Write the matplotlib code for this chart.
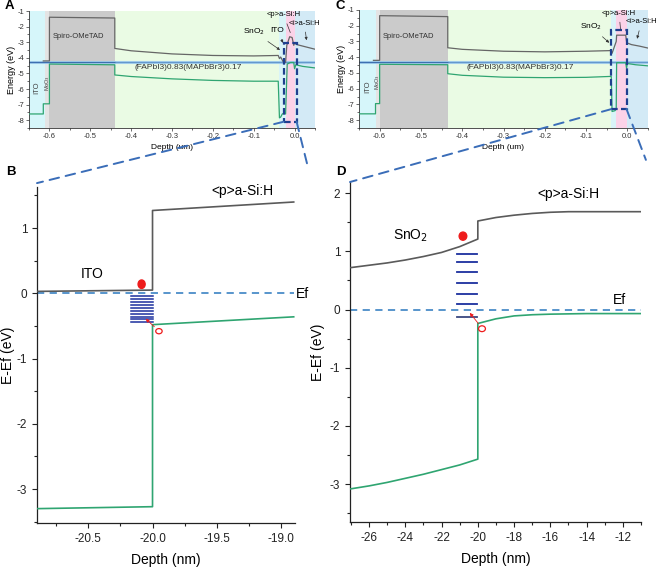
import matplotlib
matplotlib.use("Agg")
import matplotlib.pyplot as plt
from matplotlib.patches import Rectangle, ConnectionPatch, Ellipse
from matplotlib.ticker import MultipleLocator

plt.rcParams['font.family'] = ['Liberation Sans', 'DejaVu Sans']
plt.rcParams['axes.unicode_minus'] = False

# ---------------- DATA ----------------
# Panel A (depth in um, energy in eV)
A_edges = [-0.65, -0.61, -0.60, -0.44, -0.037, -0.022, 0.0, 0.05]
C_edges = [-0.65, -0.61, -0.60, -0.435, -0.039, -0.027, -0.002, 0.05]
layer_colors = ["#d6f6fa", "#e4e4e4", "#cbcbcb", "#eafbe4", "#d9f4f8", "#fbd2e8", "#d3eaf6"]

A_cb_x = [-0.615, -0.600, -0.600, -0.440, -0.440, -0.400, -0.300, -0.200, -0.100, -0.040, -0.037,
          -0.034, -0.028, -0.022, -0.019, -0.012, -0.006, -0.002, 0.000, 0.005, 0.020, 0.050]
A_cb_y = [-4.20, -4.20, -1.40, -1.45, -3.40, -3.55, -3.75, -3.85, -3.88, -3.85, -4.05,
          -3.95, -4.25, -4.30, -3.20, -2.65, -2.70, -3.20, -3.05, -3.15, -3.25, -3.45]
A_vb_x = [-0.650, -0.615, -0.615, -0.600, -0.600, -0.440, -0.440, -0.400, -0.300, -0.200, -0.100,
          -0.040, -0.037, -0.034, -0.030, -0.026, -0.022, -0.018, -0.010, -0.002, 0.000, 0.003, 0.020, 0.050]
A_vb_y = [-7.60, -7.60, -6.95, -6.95, -4.40, -4.45, -5.10, -5.20, -5.35, -5.45, -5.50,
          -5.50, -7.85, -7.80, -7.60, -7.55, -7.60, -4.40, -4.30, -4.30, -4.70, -4.45, -4.55, -4.65]
A_fermi = -4.30
A_box_x = [-0.027, 0.005]
A_box_y = [-8.10, -3.04]

# Panel C
C_cb_x = [-0.615, -0.600, -0.600, -0.435, -0.435, -0.400, -0.300, -0.200, -0.100, -0.039, -0.037,
          -0.033, -0.027, -0.026, -0.004, -0.002, 0.000, 0.010, 0.030, 0.050]
C_cb_y = [-4.20, -4.20, -1.36, -1.42, -3.40, -3.50, -3.62, -3.66, -3.62, -3.58, -3.75,
          -3.45, -3.00, -2.60, -2.60, -3.00, -3.10, -3.20, -3.30, -3.42]
C_vb_x = [-0.650, -0.610, -0.610, -0.600, -0.600, -0.435, -0.435, -0.400, -0.300, -0.200, -0.100,
          -0.039, -0.037, -0.030, -0.027, -0.026, -0.004, -0.002, 0.000, 0.020, 0.050]
C_vb_y = [-7.60, -7.60, -6.95, -6.95, -4.45, -4.48, -5.05, -5.15, -5.27, -5.30, -5.28,
          -5.22, -7.45, -7.40, -7.30, -4.35, -4.35, -4.70, -4.40, -4.48, -4.55]
C_fermi = -4.28
C_box_x = [-0.039, -0.002]
C_box_y = [-7.30, -2.26]

# Panel B (depth in nm, E-Ef in eV)
B_cb_x = [-20.9, -20.0, -20.0, -18.9]
B_cb_y = [0.03, 0.05, 1.27, 1.40]
B_vb_x = [-20.9, -20.0, -20.0, -18.9]
B_vb_y = [-3.30, -3.27, -0.48, -0.36]
B_trap_x = [-20.17, -20.00]
B_trap_levels = [-0.04, -0.085, -0.13, -0.175, -0.22, -0.265, -0.31, -0.355, -0.40, -0.445]
B_electron = (-20.085, 0.14)
B_hole = (-19.95, -0.58)
B_arrow_tip = (-20.07, -0.36)

# Panel D
D_cb_x = [-27, -26, -25, -24, -23, -22, -21, -20, -20, -19, -18, -17, -16, -15, -14, -13, -12, -11]
D_cb_y = [0.72, 0.76, 0.80, 0.85, 0.91, 0.98, 1.08, 1.21, 1.52, 1.58, 1.62, 1.65, 1.67, 1.68, 1.68, 1.68, 1.68, 1.68]
D_vb_x = [-27, -26, -25, -24, -23, -22, -21, -20, -20, -19, -18, -17, -16, -15, -14, -13, -12, -11]
D_vb_y = [-3.08, -3.03, -2.97, -2.90, -2.83, -2.75, -2.67, -2.57, -0.24, -0.16, -0.11, -0.09, -0.08,
          -0.075, -0.07, -0.07, -0.07, -0.07]
D_trap_x = [-21.15, -20.05]
D_trap_levels = [0.96, 0.81, 0.64, 0.45, 0.27, 0.09, -0.13]
D_electron = (-20.82, 1.26)
D_hole = (-19.77, -0.33)
D_arrow_tip = (-20.54, -0.02)

# ---------------- STYLE ----------------
CB_COLOR = "#5a5a5a"
VB_COLOR = "#2fa571"
EF_COLOR = "#4a8cc8"
TRAP_COLOR = "#1b2f9e"
RED = "#ee1c1c"
CONN = "#3a6db8"

W, H = 661, 568
fig = plt.figure(figsize=(6.61, 5.68), dpi=100)


def pos(l, r, t, b):
    return [l / W, 1 - b / H, (r - l) / W, (b - t) / H]


axA = fig.add_axes(pos(29, 315, 11, 128))
axC = fig.add_axes(pos(359, 648, 10, 128))
axB = fig.add_axes(pos(37, 295, 187, 523))
axD = fig.add_axes(pos(350, 641, 182, 522))


def style_small(ax):
    for s in ["top", "right"]:
        ax.spines[s].set_visible(False)
    ax.spines["left"].set_color("#333333")
    ax.spines["bottom"].set_color("#333333")
    ax.spines["left"].set_linewidth(0.6)
    ax.spines["bottom"].set_linewidth(0.6)
    ax.set_xlim(-0.65, 0.05)
    ax.set_ylim(-8.5, -1)
    ax.xaxis.set_major_locator(MultipleLocator(0.1))
    ax.xaxis.set_minor_locator(MultipleLocator(0.05))
    ax.yaxis.set_major_locator(MultipleLocator(1))
    ax.yaxis.set_minor_locator(MultipleLocator(0.5))
    ax.tick_params(which="both", direction="out", labelsize=5.5, width=0.5, colors="#333333", pad=1.5)
    ax.tick_params(which="major", length=2)
    ax.tick_params(which="minor", length=1.2)
    ax.set_xticks([-0.6, -0.5, -0.4, -0.3, -0.2, -0.1, 0.0])
    ax.set_xticklabels(["-0.6", "-0.5", "-0.4", "-0.3", "-0.2", "-0.1", "0.0"])
    ax.set_ylabel("Energy (eV)", fontsize=6.5, labelpad=1)
    ax.set_xlabel("Depth (um)", fontsize=6, labelpad=3)


def draw_small(ax, edges, cbx, cby, vbx, vby, ef, box_x, box_y):
    for i in range(len(edges) - 1):
        ax.axvspan(edges[i], edges[i + 1], color=layer_colors[i], lw=0, zorder=0)
    ax.axhline(ef, color="#9fcbea", lw=2.2, zorder=2)
    ax.plot([edges[0], edges[3]], [ef, ef], color="#3e6fb0", lw=0.8, zorder=2)
    ax.plot([edges[3], edges[-1]], [ef, ef], color="#5a8fc8", lw=0.6, zorder=2)
    ax.plot(cbx, cby, color="#666666", lw=0.9, zorder=3)
    ax.plot(vbx, vby, color=VB_COLOR, lw=0.9, zorder=3)
    ax.add_patch(Rectangle((box_x[0], box_y[0]), box_x[1] - box_x[0], box_y[1] - box_y[0],
                           fill=False, ec="#1f3f8f", lw=1.6, ls=(0, (3, 1.5)), zorder=5))
    ax.text(-0.63, -5.9, "ITO", rotation=90, fontsize=5.5, color="#444444", ha="center", va="center")
    ax.text(-0.605, -5.6, "MoO$_3$", rotation=90, fontsize=4, color="#444444", ha="center", va="center")
    ax.text(-0.53, -2.66, "Spiro-OMeTAD", fontsize=5.5, color="#333333", ha="center", va="center")
    ax.text(-0.26, -4.65, "(FAPbI3)0.83(MAPbBr3)0.17", fontsize=6, color="#333333", ha="center", va="center")


style_small(axA)
style_small(axC)
draw_small(axA, A_edges, A_cb_x, A_cb_y, A_vb_x, A_vb_y, A_fermi, A_box_x, A_box_y)
draw_small(axC, C_edges, C_cb_x, C_cb_y, C_vb_x, C_vb_y, C_fermi, C_box_x, C_box_y)

arrow_kw = dict(arrowstyle="-|>", color="#333333", lw=0.5, mutation_scale=4)
axA.annotate("SnO$_2$", xy=(-0.030, -3.6), xytext=(-0.099, -2.34), fontsize=6, ha="center", va="center",
             arrowprops=arrow_kw, zorder=6)
axA.annotate("ITO", xy=(-0.025, -3.2), xytext=(-0.043, -2.27), fontsize=6, ha="center", va="center",
             arrowprops=arrow_kw, zorder=6)
axA.annotate("<p>a-Si:H", xy=(-0.008, -2.55), xytext=(-0.027, -1.25), fontsize=5.5, ha="center", va="center",
             arrowprops=dict(arrowstyle="-", color="#333333", lw=0.5), zorder=6)
axA.annotate("<i>a-Si:H", xy=(0.03, -3.05), xytext=(0.024, -1.77), fontsize=5.5, ha="center", va="center",
             arrowprops=arrow_kw, zorder=6, annotation_clip=False)

axC.annotate("SnO$_2$", xy=(-0.039, -3.2), xytext=(-0.087, -2.07), fontsize=6, ha="center", va="center",
             arrowprops=arrow_kw, zorder=6)
axC.annotate("<p>a-Si:H", xy=(-0.016, -2.4), xytext=(-0.020, -1.2), fontsize=5.5, ha="center", va="center",
             arrowprops=dict(arrowstyle="-", color="#333333", lw=0.5), zorder=6)
axC.annotate("<i>a-Si:H", xy=(0.022, -3.0), xytext=(0.034, -1.75), fontsize=5.5, ha="center", va="center",
             arrowprops=arrow_kw, zorder=6, annotation_clip=False)


def style_big(ax):
    for s in ["top", "right"]:
        ax.spines[s].set_visible(False)
    for s in ["left", "bottom"]:
        ax.spines[s].set_color("#222222")
        ax.spines[s].set_linewidth(0.9)
    ax.tick_params(which="both", direction="out", labelsize=8.5, width=0.8, colors="#222222")
    ax.tick_params(which="major", length=3.5)
    ax.tick_params(which="minor", length=2)
    ax.set_ylabel("E-Ef (eV)", fontsize=10)
    ax.set_xlabel("Depth (nm)", fontsize=10, labelpad=6)


# Panel B
style_big(axB)
axB.set_xlim(-20.9, -18.89)
axB.set_ylim(-3.52, 1.63)
axB.xaxis.set_major_locator(MultipleLocator(0.5))
axB.xaxis.set_minor_locator(MultipleLocator(0.25))
axB.yaxis.set_major_locator(MultipleLocator(1))
axB.yaxis.set_minor_locator(MultipleLocator(0.5))
axB.set_xticks([-20.5, -20.0, -19.5, -19.0])
axB.set_xticklabels(["-20.5", "-20.0", "-19.5", "-19.0"])
axB.yaxis.set_label_coords(-0.085, 0.5)
axB.plot([-20.9, -18.9], [0, 0], color=EF_COLOR, lw=1.3, ls=(0, (4, 3)), zorder=2)
axB.plot(B_cb_x, B_cb_y, color=CB_COLOR, lw=1.2, zorder=3)
axB.plot(B_vb_x, B_vb_y, color=VB_COLOR, lw=1.2, zorder=3)
for lv in B_trap_levels:
    axB.plot(B_trap_x, [lv, lv], color=TRAP_COLOR, lw=1.1, zorder=4)
axB.add_patch(Ellipse(B_electron, 0.055, 0.13, color=RED, zorder=5))
axB.add_patch(Ellipse(B_hole, 0.05, 0.08, fill=False, ec=RED, lw=0.9, zorder=5))
axB.annotate("", xy=B_arrow_tip, xytext=(B_hole[0] - 0.02, B_hole[1] + 0.04),
             arrowprops=dict(arrowstyle="-|>", color=RED, lw=0.6, mutation_scale=5), zorder=5)
axB.text(-20.47, 0.29, "ITO", fontsize=10, ha="center", va="center")
axB.text(-19.30, 1.57, "<p>a-Si:H", fontsize=10, ha="center", va="center")
axB.text(-18.88, -0.01, "Ef", fontsize=10, ha="left", va="center")

# Panel D
style_big(axD)
axD.set_xlim(-27.05, -11.0)
axD.set_ylim(-3.65, 2.19)
axD.xaxis.set_major_locator(MultipleLocator(2))
axD.xaxis.set_minor_locator(MultipleLocator(1))
axD.yaxis.set_major_locator(MultipleLocator(1))
axD.yaxis.set_minor_locator(MultipleLocator(0.5))
axD.yaxis.set_label_coords(-0.086, 0.5)
axD.plot([-27.05, -11.0], [0, 0], color=EF_COLOR, lw=1.3, ls=(0, (4, 3)), zorder=2)
axD.plot(D_cb_x, D_cb_y, color=CB_COLOR, lw=1.2, zorder=3)
axD.plot(D_vb_x, D_vb_y, color=VB_COLOR, lw=1.2, zorder=3)
for i, lv in enumerate(D_trap_levels):
    c = "#3a4880" if i == len(D_trap_levels) - 1 else TRAP_COLOR
    axD.plot(D_trap_x, [lv, lv], color=c, lw=1.3, zorder=4)
axD.add_patch(Ellipse(D_electron, 0.42, 0.14, color=RED, zorder=5))
axD.add_patch(Ellipse(D_hole, 0.38, 0.1, fill=False, ec=RED, lw=0.9, zorder=5))
axD.annotate("", xy=D_arrow_tip, xytext=(D_hole[0] - 0.1, D_hole[1] + 0.05),
             arrowprops=dict(arrowstyle="-|>", color=RED, lw=0.6, mutation_scale=5), zorder=5)
axD.text(-23.7, 1.26, "SnO$_2$", fontsize=10, ha="center", va="center")
axD.text(-15.0, 1.99, "<p>a-Si:H", fontsize=10, ha="center", va="center")
axD.text(-12.2, 0.17, "Ef", fontsize=10, ha="center", va="center")

# Zoom connectors
conn_kw = dict(color=CONN, lw=1.4, ls=(0, (5, 3.5)), zorder=10)
for axS, box_x, box_y, axL, pL, pR in [
    (axA, A_box_x, A_box_y, axB, (-20.9, 1.69), (-18.79, 1.94)),
    (axC, C_box_x, C_box_y, axD, (-27.05, 2.19), (-10.73, 2.57)),
]:
    for xa, pb in [(box_x[0], pL), (box_x[1], pR)]:
        cp = ConnectionPatch(xyA=(xa, box_y[0]), coordsA=axS.transData,
                             xyB=pb, coordsB=axL.transData, **conn_kw)
        cp.set_clip_on(False)
        fig.add_artist(cp)

# Panel letters
for lbl, x, y in [("A", 5, 6), ("C", 336, 6), ("B", 6, 172), ("D", 336, 172)]:
    fig.text(x / W, 1 - y / H, lbl, fontsize=9.5, fontweight="bold", ha="left", va="center")

fig.savefig("out.png", dpi=100)
